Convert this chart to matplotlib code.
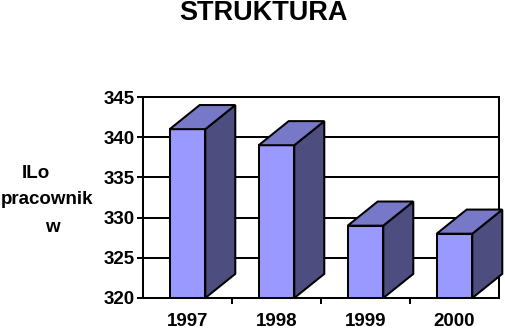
import matplotlib
matplotlib.use("Agg")
import matplotlib.pyplot as plt
from matplotlib.patches import Polygon
from matplotlib.ticker import FixedLocator, NullFormatter

plt.rcParams['font.family'] = ['Liberation Sans', 'DejaVu Sans']

years = ["1997", "1998", "1999", "2000"]
values = [341, 339, 329, 328]
y_ticks = [320, 325, 330, 335, 340, 345]
title = "STRUKTURA"
ylabel_lines = ["ILo", "pracownik", "w"]

front_c = "#9999FF"
top_c = "#7878C8"
side_c = "#4D4D80"

fig = plt.figure(figsize=(5.05, 3.34), dpi=100)
ax = fig.add_axes([143/505, 36/334, 356/505, 201/334])

base = 320
w = 0.40
dx = 0.337
dy = 3.0
lw = 1.45

xs = list(range(len(years)))
ax.bar(xs, [v - base for v in values], bottom=base, width=w, color=front_c,
       edgecolor="black", linewidth=lw, zorder=3)
for x, v in zip(xs, values):
    l, r = x - w/2, x + w/2
    top = Polygon([(l, v), (r, v), (r + dx, v + dy), (l + dx, v + dy)],
                  closed=True, facecolor=top_c, edgecolor="black", linewidth=lw,
                  zorder=3, clip_on=False)
    side = Polygon([(r, base), (r + dx, base + dy), (r + dx, v + dy), (r, v)],
                   closed=True, facecolor=side_c, edgecolor="black", linewidth=lw,
                   zorder=3, clip_on=False)
    ax.add_patch(side)
    ax.add_patch(top)

ax.set_xlim(-0.5, 3.5)
ax.set_ylim(320, 345)
ax.set_yticks(y_ticks)
ax.set_yticklabels([str(t) for t in y_ticks], fontsize=13.5, fontweight="bold")
ax.set_xticks(xs)
ax.set_xticklabels(years, fontsize=13.5, fontweight="bold")
ax.xaxis.set_minor_locator(FixedLocator([0.5, 1.5, 2.5]))
ax.xaxis.set_minor_formatter(NullFormatter())
ax.tick_params(axis="x", which="major", length=0, pad=11)
ax.tick_params(axis="x", which="minor", length=4, width=lw, direction="out")
ax.tick_params(axis="y", length=4, width=lw, direction="out", pad=2)

for t in y_ticks[1:-1]:
    ax.axhline(t, color="black", linewidth=lw, zorder=1)
for s in ax.spines.values():
    s.set_linewidth(lw)
    s.set_zorder(2)

fig.text(263/505, 1 - 13/334, title, ha="center", va="center",
         fontsize=19.5, fontweight="bold")
label_pos = [(36, 173), (47, 200), (52, 227)]
for txt, (px, py) in zip(ylabel_lines, label_pos):
    fig.text(px/505, 1 - py/334, txt, ha="center", va="center",
             fontsize=13.5, fontweight="bold")

fig.savefig("out.png", dpi=100)
